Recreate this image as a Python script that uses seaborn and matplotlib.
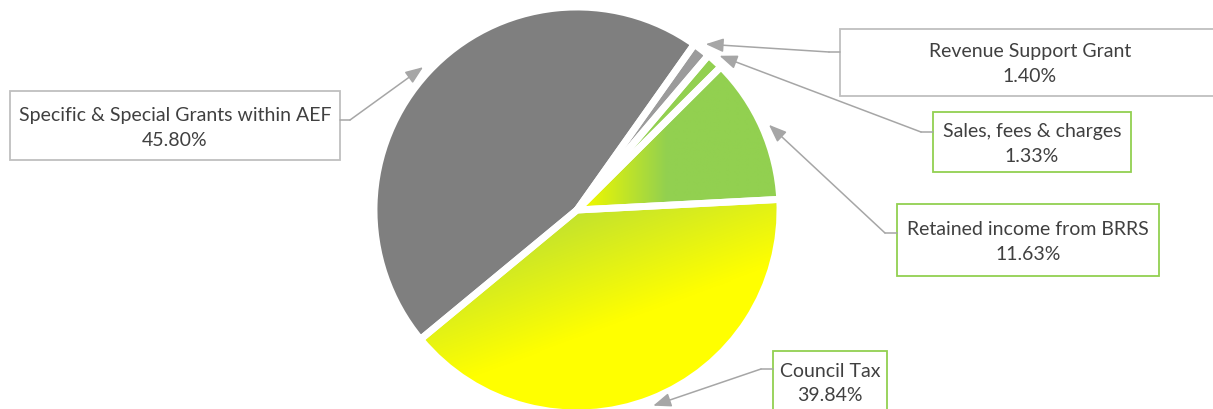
import numpy as np
import pandas as pd
import matplotlib.pyplot as plt
import seaborn as sns
from matplotlib.patches import Rectangle
from matplotlib.colors import to_rgb

sns.set_theme(style="white")
plt.rcParams['font.family'] = ['Lato', 'DejaVu Sans']

# data (counter-clockwise from the start angle)
labels = ['Retained income from BRRS', 'Sales, fees & charges', 'Revenue Support Grant',
          'Specific & Special Grants within AEF', 'Council Tax']
shares = [11.63, 1.33, 1.40, 45.80, 39.84]
colors = ['#92d050', '#92d050', '#9b9b9b', '#7f7f7f', '#ffff00']
box_edge = ['#92d050', '#92d050', '#bfbfbf', '#bfbfbf', '#92d050']

# label boxes in pixel coords (left, top, right, bottom), text centre y, elbow x
boxes = [(897, 205, 1159, 277), (933, 113, 1131, 173), (840, 30, 1230, 97),
         (10, 92, 340, 161), (773, 352, 887, 430)]
text_y = [242, 144, 64, 128, 384]
elbow_x = [885, 921, 829, 350, 761]
elbow_y = [234, 133, 53, 121, 370]

W, H = 1213, 410
cx, cy, R = 577, H - 211, 203
explode = [0.02] * len(shares)

df = pd.DataFrame({'label': labels, 'share': shares})

fig = plt.figure(figsize=(W / 100, H / 100), dpi=100)
ax = fig.add_axes([0, 0, 1, 1])

wedges, _ = ax.pie(df['share'], colors=colors, startangle=3, counterclock=True,
                   center=(cx, cy), radius=R, explode=explode,
                   wedgeprops=dict(edgecolor='none'))
ax.set_xlim(0, W)
ax.set_ylim(0, H)
ax.set_aspect('auto')
ax.axis('off')

# gradient fills
def grad_fill(wedge, func, c0, c1):
    xs = np.linspace(cx - R - 10, cx + R + 10, 420)
    ys = np.linspace(cy - R - 10, cy + R + 10, 420)
    X, Y = np.meshgrid(xs, ys)
    t = np.clip(func(X, Y), 0, 1)[..., None]
    img = (1 - t) * np.array(to_rgb(c0)) + t * np.array(to_rgb(c1))
    im = ax.imshow(img, extent=(xs[0], xs[-1], ys[0], ys[-1]), origin='lower',
                   zorder=2, interpolation='bilinear')
    im.set_clip_path(wedge)

grad_fill(wedges[0], lambda X, Y: (X - (cx + 10)) / 80, '#eef800', '#92d050')
grad_fill(wedges[4], lambda X, Y: ((X - cx) * 0.35 - (Y - cy) * 0.94) / 120, '#c2e22e', '#ffff00')

# white separators drawn on top
edges, _ = ax.pie(df['share'], startangle=3, counterclock=True, center=(cx, cy), radius=R,
                  explode=explode,
                  wedgeprops=dict(facecolor='none', edgecolor='white', linewidth=5))
for e in edges:
    e.set_zorder(3)
ax.set_xlim(0, W)
ax.set_ylim(0, H)
ax.set_aspect('auto')
ax.axis('off')

arrow_col = '#a6a6a6'
for i, w in enumerate(wedges):
    mid = np.deg2rad((w.theta1 + w.theta2) / 2)
    tip = (cx + (R + 7) * np.cos(mid), cy + (R + 7) * np.sin(mid))
    l, t, r, b = boxes[i]
    ax.add_patch(Rectangle((l, H - b), r - l, b - t, facecolor='white', edgecolor=box_edge[i],
                           linewidth=1.3, zorder=4))
    side = r if elbow_x[i] > r else l
    ax.plot([side, elbow_x[i]], [H - elbow_y[i], H - elbow_y[i]], color=arrow_col, lw=1.1, zorder=4)
    ax.annotate('', xy=tip, xytext=(elbow_x[i], H - elbow_y[i]),
                arrowprops=dict(arrowstyle='-|>,head_length=0.9,head_width=0.35',
                                color=arrow_col, lw=1.1, shrinkA=0, shrinkB=0), zorder=4)
    tx = (l + min(r, W)) / 2 if i != 2 else 1030
    ax.text(tx, H - text_y[i], f"{labels[i]}\n{shares[i]:.2f}%", ha='center', va='center',
            multialignment='center', fontsize=14, color='#404040', linespacing=1.5, zorder=5)

fig.savefig('out.png', dpi=100)
